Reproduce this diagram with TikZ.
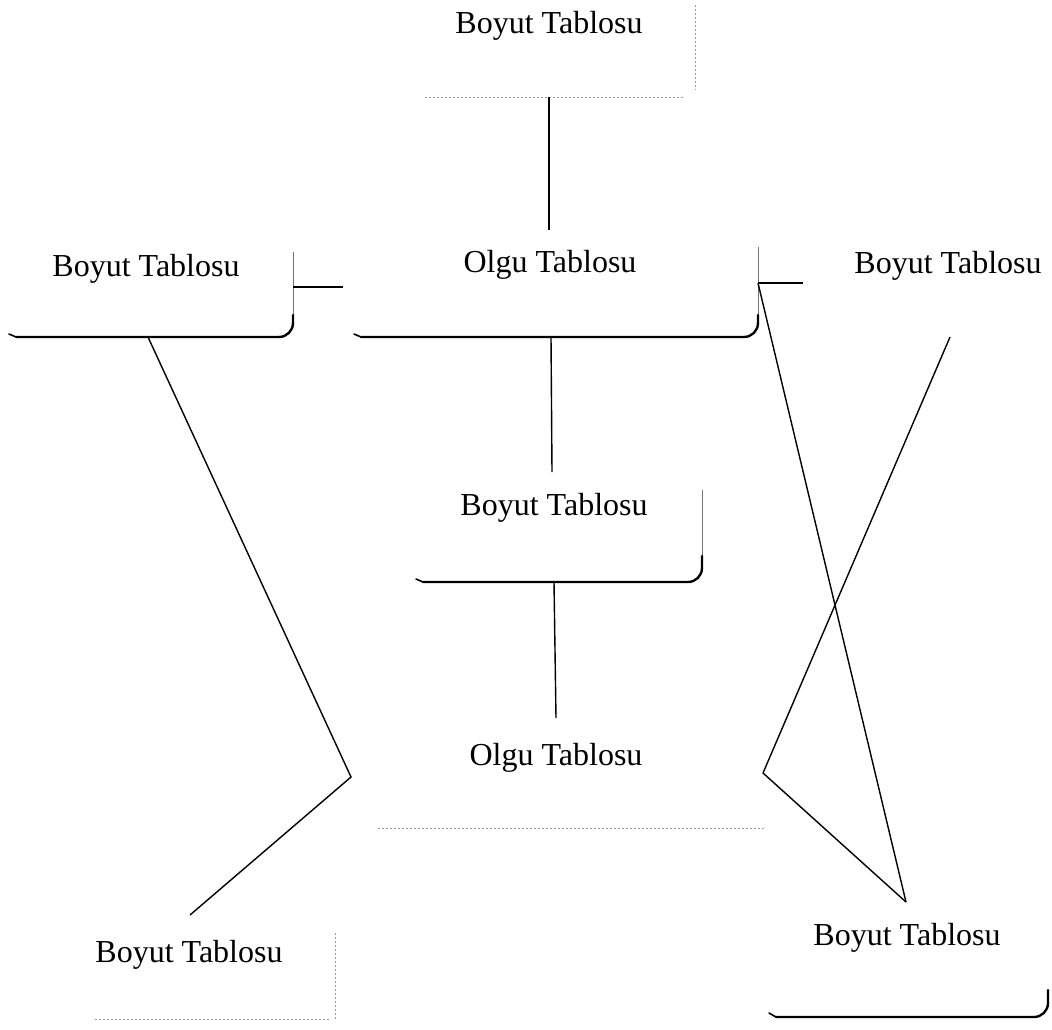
\documentclass[tikz,border=0pt]{standalone}
\usepackage{fontspec}
\setmainfont{Liberation Serif}
\begin{document}
\begin{tikzpicture}[x=1pt,y=-1pt,
  lbl/.style={font=\fontsize{32}{38}\selectfont, inner sep=0pt, anchor=base},
  faint/.style={draw=black!40, line width=0.7pt, dash pattern=on 1.5pt off 2.5pt},
  rim/.style={draw=black!55, line width=0.8pt},
  base/.style={draw=black, line width=2.4pt, rounded corners=14pt, line cap=round},
  tip/.style={draw=black, line width=1.6pt, line cap=round},
  link/.style={draw=black, line width=1.4pt, line join=miter}]
\useasboundingbox (0,0) rectangle (1052,1029);

% table labels
\node[lbl] (dTop)   at (549,33)  {Boyut Tablosu};
\node[lbl] (dLeft)  at (146,276) {Boyut Tablosu};
\node[lbl] (fMain)  at (550,272) {Olgu Tablosu};
\node[lbl] (dRight) at (948,273) {Boyut Tablosu};
\node[lbl] (dMid)   at (554,515) {Boyut Tablosu};
\node[lbl] (fLow)   at (556,765) {Olgu Tablosu};
\node[lbl] (dBL)    at (189,962) {Boyut Tablosu};
\node[lbl] (dBR)    at (907,945) {Boyut Tablosu};

% box outlines (right side and bottom only)
\draw[faint] (695,5) -- (695,90);
\draw[faint] (425,97) -- (685,97);

\draw[rim] (293,252) -- (293,318);
\draw[base] (293,315) -- (293,337) -- (16,337);
\draw[tip] (16,337) -- (9,334);

\draw[rim] (758,247) -- (758,318);
\draw[base] (758,315) -- (758,337) -- (361,337);
\draw[tip] (361,337) -- (354,334);

\draw[rim] (702,490) -- (702,560);
\draw[base] (702,556) -- (702,582) -- (423,582);
\draw[tip] (423,582) -- (416,579);

\draw[faint] (378,828) -- (765,828);

\draw[faint] (335,933) -- (335,1020);
\draw[faint] (95,1019) -- (330,1019);

\draw[base] (1048,990) -- (1048,1017) -- (776,1017);
\draw[tip] (776,1017) -- (769,1013);

% connection points
\coordinate (tB)  at (549,97);
\coordinate (fT)  at (549,230);
\coordinate (lR)  at (293,287);
\coordinate (lRe) at (343,287);
\coordinate (fR)  at (758,283);
\coordinate (fRe) at (803,283);
\coordinate (fB)  at (551,337);
\coordinate (mT)  at (552,472);
\coordinate (mB)  at (554,582);
\coordinate (oT)  at (556,718);
\coordinate (lB)  at (148,337);
\coordinate (lV)  at (351,777);
\coordinate (blT) at (190,915);
\coordinate (rB)  at (950,337);
\coordinate (rV)  at (763,773);
\coordinate (brT) at (906,902);

% connectors
\draw[link] (tB) -- (fT);
\draw[link] (lR) -- (lRe);
\draw[link] (fR) -- (fRe);
\draw[link] (fB) -- (mT);
\draw[link] (mB) -- (oT);
\draw[link] (lB) -- (lV) -- (blT);
\draw[link] (fR) -- (brT);
\draw[link] (rB) -- (rV) -- (brT);
\end{tikzpicture}
\end{document}
